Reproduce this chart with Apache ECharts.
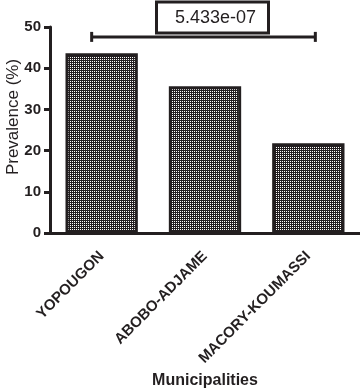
<!DOCTYPE html>
<html><head><meta charset="utf-8">
<script src="https://cdn.jsdelivr.net/npm/echarts@6/dist/echarts.min.js"></script>
<style>html,body{margin:0;padding:0;background:#fff}#c{width:360px;height:390px}</style>
</head><body><div id="c"></div>
<script>
var categories = ['YOPOUGON', 'ABOBO-ADJAME', 'MACORY-KOUMASSI'];
var prevalence = [43.6, 35.6, 21.8];
var yTicks = [0, 10, 20, 30, 40, 50];
var comparison = [[0, 2, 47.6]];
var comparisonLabels = ['5.433e-07'];

var tile = document.createElement('canvas');
tile.width = 2; tile.height = 2;
var tc = tile.getContext('2d');
tc.fillStyle = '#231f20'; tc.fillRect(0, 0, 2, 2);
tc.fillStyle = '#ffffff'; tc.fillRect(0, 1, 1, 1);

var chart = echarts.init(document.getElementById('c'));
chart.setOption({
  animation: false,
  grid: {left: 50, right: 0, top: 27, bottom: 157, containLabel: false, outerBoundsMode: 'none'},
  xAxis: {
    type: 'category', data: categories,
    axisLine: {lineStyle: {color: '#231f20', width: 3}},
    axisTick: {alignWithLabel: true, length: 6, lineStyle: {width: 3, color: '#231f20'}},
    axisLabel: {rotate: 45, interval: 0, margin: 21, color: '#231f20', fontFamily: 'Liberation Sans', fontWeight: 'bold', fontSize: 15},
    name: 'Municipalities', nameLocation: 'middle', nameGap: 140, nameMoveOverlap: false,
    nameTextStyle: {color: '#231f20', fontFamily: 'Liberation Sans', fontWeight: 'bold', fontSize: 16}
  },
  yAxis: {
    type: 'value', min: 0, max: 50, interval: 10,
    axisLine: {show: true, lineStyle: {color: '#231f20', width: 3}},
    axisTick: {show: true, length: 6, lineStyle: {width: 3, color: '#231f20'}},
    splitLine: {show: false},
    axisLabel: {margin: 9, color: '#231f20', fontFamily: 'Liberation Sans', fontWeight: 'bold', fontSize: 15,
      formatter: function (v) { return yTicks.indexOf(v) >= 0 ? String(v) : ''; }},
    name: 'Prevalence (%)', nameLocation: 'middle', nameGap: 28, nameMoveOverlap: false,
    nameTextStyle: {color: '#231f20', fontFamily: 'Liberation Sans', fontSize: 17, padding: [0, 0, 0, 26]}
  },
  series: [{
    type: 'bar', data: prevalence, barWidth: '70%',
    itemStyle: {color: {image: tile, repeat: 'repeat'}, borderColor: '#231f20', borderWidth: 3}
  }, {
    type: 'custom', data: comparison, clip: false, z: 5,
    renderItem: function (params, api) {
      var p0 = api.coord([api.value(0), api.value(2)]);
      var p1 = api.coord([api.value(1), api.value(2)]);
      var x0 = p0[0] - 10, x1 = p1[0] + 7, y = p0[1];
      var cx = (x0 + x1) / 2 + 8;
      return {type: 'group', children: [
        {type: 'line', shape: {x1: x0, y1: y, x2: x1, y2: y}, style: {stroke: '#231f20', lineWidth: 3}},
        {type: 'line', shape: {x1: x0, y1: y - 5, x2: x0, y2: y + 5}, style: {stroke: '#231f20', lineWidth: 3}},
        {type: 'line', shape: {x1: x1, y1: y - 5, x2: x1, y2: y + 5}, style: {stroke: '#231f20', lineWidth: 3}},
        {type: 'rect', shape: {x: cx - 55, y: y - 35, width: 112, height: 31},
          style: {fill: '#fff', stroke: '#231f20', lineWidth: 3}},
        {type: 'text', x: cx + 4, y: y - 19, style: {text: comparisonLabels[params.dataIndex], fill: '#231f20',
          font: '18px "Liberation Sans"', align: 'center', verticalAlign: 'middle'}}
      ]};
    }
  }]
});
</script></body></html>
